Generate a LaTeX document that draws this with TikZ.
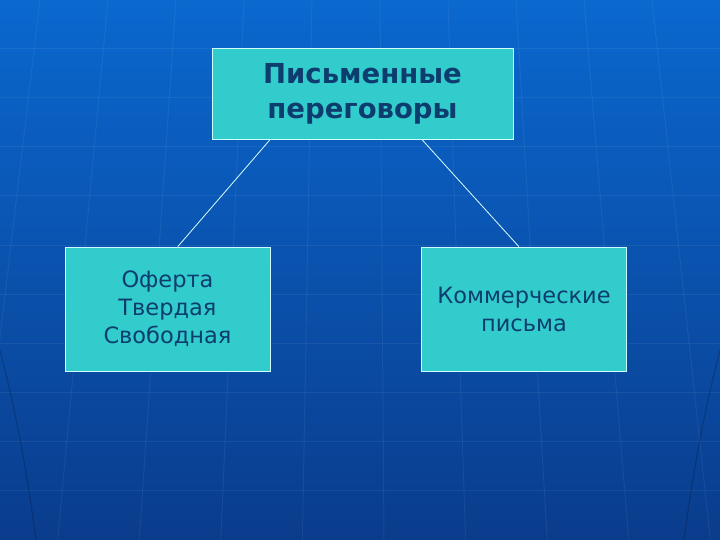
\documentclass[tikz,border=0pt]{standalone}
\usepackage{fontspec}
\setmainfont{DejaVu Sans}
\usetikzlibrary{calc}
\definecolor{bgtop}{HTML}{0A68CF}
\definecolor{bgmid}{HTML}{0653B9}
\definecolor{bgbot}{HTML}{0A3C8C}
\definecolor{boxfill}{HTML}{33CCCC}
\definecolor{boxline}{HTML}{CCFFFF}
\definecolor{boxtext}{HTML}{0D3D6E}
\tikzset{
	topic/.style={
		rectangle, 
		minimum width=301pt, 
		minimum height=91pt, 
		text centered, 
		align=center,
		draw=boxline, 
		line width=0.8pt,
		fill=boxfill,
		text=boxtext,
		font=\fontsize{27.5}{35}\selectfont\bfseries
	},
	branch/.style={
		rectangle, 
		minimum width=205pt, 
		minimum height=124pt, 
		text centered, 
		align=center,
		draw=boxline, 
		line width=0.8pt,
		fill=boxfill,
		text=boxtext,
		font=\fontsize{22.5}{28}\selectfont
	},
	link/.style={draw=boxline!70!white, line width=0.8pt},
	gridline/.style={draw=white, opacity=0.06, line width=1pt}
}

\begin{document}
\begin{tikzpicture}[x=1pt, y=-1pt]
	\useasboundingbox (0,0) rectangle (720,540);
	\shade[top color=bgtop, middle color=bgmid, bottom color=bgbot] (0,0) rectangle (720,540);
	\foreach \y in {49,98,...,520}
		\draw[gridline] (0,\y) -- (720,\y);
	\foreach \x in {40,108,...,700}
		\draw[gridline] (\x,0) -- ({360+(\x-360)*1.2},540);
	\draw[black, opacity=0.2, line width=1pt] (0,350) .. controls (18,420) and (28,480) .. (36,540);
	\draw[black, opacity=0.2, line width=1pt] (720,350) .. controls (702,420) and (692,480) .. (684,540);

	\node (talks) [topic] at (362.5,94) {Письменные\\переговоры};
	\node (offer) [branch] at (167.5,309) {Оферта\\Твердая\\Свободная};
	\node (letters) [branch] at (524,309) {Коммерческие\\письма};

	\draw [link] ($(talks.south west)!0.193!(talks.south east)$) -- ($(offer.north west)!0.55!(offer.north east)$);
	\draw [link] ($(talks.south west)!0.698!(talks.south east)$) -- ($(letters.north west)!0.475!(letters.north east)$);
\end{tikzpicture}
\end{document}
